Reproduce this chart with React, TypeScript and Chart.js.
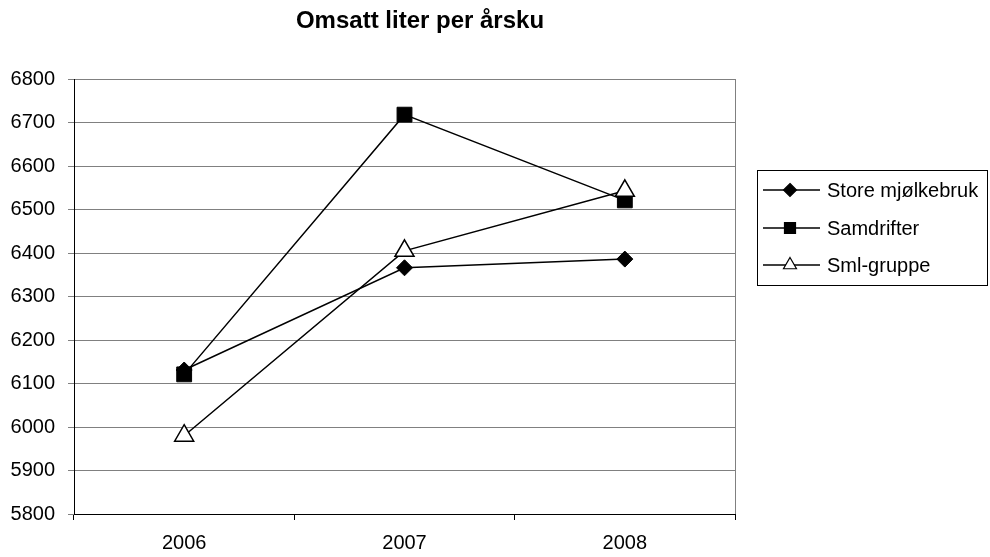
import React, { useEffect, useRef } from "react";
import { Chart, registerables } from "chart.js";

Chart.register(...registerables);

const TITLE = "Omsatt liter per årsku";
const YEARS = ["2006", "2007", "2008"];
const SERIES_NAMES = ["Store mjølkebruk", "Samdrifter", "Sml-gruppe"];
const STORE = [6131, 6366, 6386];
const SAMDRIFTER = [6121, 6718, 6521];
const SML = [5980, 6405, 6543];
const Y_MIN = 5800;
const Y_MAX = 6800;
const Y_STEP = 100;

const FONT = "'Liberation Sans', Arial, Helvetica, sans-serif";
const W = 990;
const H = 557;

type Marker = "diamond" | "square" | "triangle";
const MARKERS: Marker[] = ["diamond", "square", "triangle"];

function drawMarker(ctx: CanvasRenderingContext2D, kind: Marker, x: number, y: number) {
  ctx.save();
  ctx.lineWidth = 1.2;
  ctx.strokeStyle = "#000";
  ctx.beginPath();
  if (kind === "diamond") {
    const r = 6.5;
    ctx.moveTo(x, y - r);
    ctx.lineTo(x + r, y);
    ctx.lineTo(x, y + r);
    ctx.lineTo(x - r, y);
    ctx.closePath();
    ctx.fillStyle = "#000";
  } else if (kind === "square") {
    const s = 5.5;
    ctx.rect(x - s, y - s, 2 * s, 2 * s);
    ctx.fillStyle = "#000";
  } else {
    const r = 7.5;
    ctx.moveTo(x, y - r);
    ctx.lineTo(x + r * 0.866, y + r * 0.5);
    ctx.lineTo(x - r * 0.866, y + r * 0.5);
    ctx.closePath();
    ctx.fillStyle = "#fff";
  }
  ctx.fill();
  ctx.stroke();
  ctx.restore();
}

const decorPlugin = {
  id: "decor",
  beforeDatasetsDraw(chart: any) {
    const { ctx, chartArea } = chart;
    ctx.save();
    ctx.strokeStyle = "#808080";
    ctx.lineWidth = 1;
    const x = Math.round(chartArea.right) + 0.5;
    ctx.beginPath();
    ctx.moveTo(x, chartArea.top);
    ctx.lineTo(x, chartArea.bottom);
    ctx.stroke();
    ctx.restore();
  },
  afterDraw(chart: any) {
    const { ctx } = chart;
    ctx.save();
    // title
    ctx.fillStyle = "#000";
    ctx.font = `bold 24px ${FONT}`;
    ctx.textAlign = "center";
    ctx.textBaseline = "middle";
    ctx.fillText(TITLE, 420, 21);

    // legend
    const bx = 757.5, by = 170.5, bw = 230, bh = 115;
    ctx.fillStyle = "#fff";
    ctx.fillRect(bx, by, bw, bh);
    ctx.strokeStyle = "#000";
    ctx.lineWidth = 1;
    ctx.strokeRect(bx, by, bw, bh);
    const rows = [190, 228, 265];
    ctx.font = `20px ${FONT}`;
    ctx.textAlign = "left";
    ctx.textBaseline = "middle";
    SERIES_NAMES.forEach((name, i) => {
      const y = rows[i];
      ctx.strokeStyle = "#000";
      ctx.lineWidth = 1.5;
      ctx.beginPath();
      ctx.moveTo(763, y);
      ctx.lineTo(820, y);
      ctx.stroke();
      drawMarker(ctx, MARKERS[i], 790, y);
      ctx.fillStyle = "#000";
      ctx.fillText(name, 827, y + 1);
    });
    ctx.restore();
  },
};

export default function App() {
  const ref = useRef<HTMLCanvasElement | null>(null);

  useEffect(() => {
    document.body.style.margin = "0";
    const canvas = ref.current;
    if (!canvas) return;
    const chart = new Chart(canvas, {
      type: "line",
      data: {
        labels: YEARS,
        datasets: [
          {
            label: SERIES_NAMES[0],
            data: STORE,
            borderColor: "#000",
            borderWidth: 1.5,
            pointStyle: "rectRot",
            pointRadius: 8,
            pointBackgroundColor: "#000",
            pointBorderColor: "#000",
            pointBorderWidth: 1,
            order: 3,
          },
          {
            label: SERIES_NAMES[1],
            data: SAMDRIFTER,
            borderColor: "#000",
            borderWidth: 1.5,
            pointStyle: "rect",
            pointRadius: 10.5,
            pointBackgroundColor: "#000",
            pointBorderColor: "#000",
            pointBorderWidth: 1,
            order: 2,
          },
          {
            label: SERIES_NAMES[2],
            data: SML,
            borderColor: "#000",
            borderWidth: 1.5,
            pointStyle: "triangle",
            pointRadius: 11,
            pointBackgroundColor: "#fff",
            pointBorderColor: "#000",
            pointBorderWidth: 1.5,
            order: 1,
          },
        ],
      },
      options: {
        responsive: false,
        animation: false,
        devicePixelRatio: 1,
        layout: { padding: { top: 79, right: 255, bottom: 0, left: 0 } },
        plugins: {
          legend: { display: false },
          title: { display: false },
          tooltip: { enabled: false },
        },
        elements: { line: { tension: 0 } },
        scales: {
          x: {
            type: "category",
            offset: true,
            grid: {
              offset: true,
              drawOnChartArea: false,
              drawTicks: true,
              tickLength: 6,
              color: "#000",
            },
            border: { color: "#000", width: 1 },
            ticks: {
              color: "#000",
              font: { family: FONT, size: 20 },
              padding: 11,
              maxRotation: 0,
            },
            afterFit(scale: any) {
              scale.height = 43;
            },
          },
          y: {
            min: Y_MIN,
            max: Y_MAX,
            ticks: {
              stepSize: Y_STEP,
              color: "#000",
              font: { family: FONT, size: 20 },
              padding: 13,
              callback: (v: any) => String(v),
            },
            grid: {
              color: "#808080",
              tickLength: 6,
            },
            border: { color: "#000", width: 1 },
            afterFit(scale: any) {
              scale.width = 74;
            },
          },
        },
      },
      plugins: [decorPlugin],
    });
    return () => chart.destroy();
  }, []);

  return (
    <div style={{ position: "absolute", left: 0, top: 0, width: W, height: H, background: "#fff" }}>
      <canvas ref={ref} width={W} height={H} style={{ width: W, height: H, display: "block" }} />
    </div>
  );
}
